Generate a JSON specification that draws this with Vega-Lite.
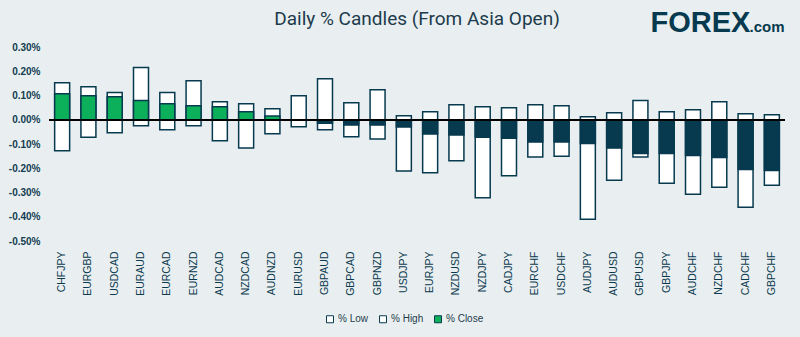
{
  "$schema": "https://vega.github.io/schema/vega-lite/v6.json",
  "width": 736,
  "height": 194,
  "autosize": {"type": "none"},
  "padding": {"left": 49, "top": 47, "right": 15, "bottom": 96},
  "background": "#e9eff0",
  "title": {
    "text": "Daily % Candles (From Asia Open)",
    "fontSize": 19,
    "font": "Roboto",
    "fontWeight": "normal",
    "color": "#1d3b4c",
    "anchor": "middle",
    "offset": -21
  },
  "data": {
    "values": [
      {"pair": "CHFJPY", "high": 0.153, "low": -0.128, "close": 0.107},
      {"pair": "EURGBP", "high": 0.136, "low": -0.072, "close": 0.099},
      {"pair": "USDCAD", "high": 0.112, "low": -0.054, "close": 0.095},
      {"pair": "EURAUD", "high": 0.215, "low": -0.025, "close": 0.079},
      {"pair": "EURCAD", "high": 0.112, "low": -0.041, "close": 0.066},
      {"pair": "EURNZD", "high": 0.161, "low": -0.025, "close": 0.058},
      {"pair": "AUDCAD", "high": 0.074, "low": -0.087, "close": 0.054},
      {"pair": "NZDCAD", "high": 0.066, "low": -0.116, "close": 0.033},
      {"pair": "AUDNZD", "high": 0.045, "low": -0.058, "close": 0.015},
      {"pair": "EURUSD", "high": 0.099, "low": -0.029, "close": 0.0},
      {"pair": "GBPAUD", "high": 0.169, "low": -0.041, "close": -0.014},
      {"pair": "GBPCAD", "high": 0.070, "low": -0.070, "close": -0.022},
      {"pair": "GBPNZD", "high": 0.124, "low": -0.079, "close": -0.022},
      {"pair": "USDJPY", "high": 0.017, "low": -0.211, "close": -0.030},
      {"pair": "EURJPY", "high": 0.033, "low": -0.219, "close": -0.059},
      {"pair": "NZDUSD", "high": 0.062, "low": -0.169, "close": -0.063},
      {"pair": "NZDJPY", "high": 0.054, "low": -0.322, "close": -0.072},
      {"pair": "CADJPY", "high": 0.050, "low": -0.231, "close": -0.076},
      {"pair": "EURCHF", "high": 0.062, "low": -0.154, "close": -0.092},
      {"pair": "USDCHF", "high": 0.058, "low": -0.150, "close": -0.092},
      {"pair": "AUDJPY", "high": 0.012, "low": -0.410, "close": -0.098},
      {"pair": "AUDUSD", "high": 0.029, "low": -0.249, "close": -0.117},
      {"pair": "GBPUSD", "high": 0.079, "low": -0.154, "close": -0.139},
      {"pair": "GBPJPY", "high": 0.033, "low": -0.262, "close": -0.139},
      {"pair": "AUDCHF", "high": 0.041, "low": -0.307, "close": -0.147},
      {"pair": "NZDCHF", "high": 0.074, "low": -0.278, "close": -0.156},
      {"pair": "CADCHF", "high": 0.025, "low": -0.361, "close": -0.205},
      {"pair": "GBPCHF", "high": 0.021, "low": -0.270, "close": -0.209}
    ]
  },
  "layer": [
    {
      "mark": {"type": "bar", "stroke": "#073a4f", "strokeWidth": 1.5},
      "encoding": {
        "x": {
          "field": "pair",
          "type": "nominal",
          "sort": null,
          "scale": {"paddingInner": 0.43, "paddingOuter": 0.215},
          "axis": {
            "labelAngle": -90,
            "labelFontSize": 10.5,
            "labelFont": "Liberation Sans",
            "labelColor": "#0b3a4f",
            "labelOverlap": false,
            "ticks": false,
            "domain": false,
            "labelPadding": 10,
            "title": "FOREX",
            "titleX": 601,
            "titleY": -210,
            "titleAlign": "left",
            "titleBaseline": "alphabetic",
            "titleFont": "Liberation Sans",
            "titleFontSize": 29,
            "titleFontWeight": "bold",
            "titleColor": "#073a4f"
          }
        },
        "y": {
          "field": "low",
          "type": "quantitative",
          "scale": {"domain": [-0.5, 0.3], "nice": false, "zero": false},
          "axis": {
            "values": [-0.5, -0.4, -0.3, -0.2, -0.1, 0, 0.1, 0.2, 0.3],
            "tickCount": 20,
            "labelExpr": "replace(format(datum.value, '.2f'), '\u2212', '-') + '%'",
            "labelOverlap": false,
            "grid": false,
            "ticks": false,
            "domain": false,
            "labelPadding": 9,
            "labelFont": "Liberation Sans",
            "labelFontSize": 10,
            "labelFontWeight": "bold",
            "labelColor": "#123d52",
            "title": ".com",
            "titleX": 700,
            "titleY": -16,
            "titleAngle": 0,
            "titleAlign": "left",
            "titleBaseline": "alphabetic",
            "titleFont": "Liberation Sans",
            "titleFontSize": 15,
            "titleFontWeight": "bold",
            "titleColor": "#073a4f"
          }
        },
        "y2": {"field": "high"},
        "color": {
          "datum": "% Low",
          "type": "nominal",
          "scale": {"domain": ["% Low", "% High", "% Close"], "range": ["#ffffff", "#ffffff", "#0db05a"]},
          "legend": {
            "orient": "none",
            "legendX": 276,
            "legendY": 267,
            "direction": "horizontal",
            "title": null,
            "symbolType": "square",
            "symbolSize": 49,
            "symbolStrokeColor": "#073a4f",
            "symbolStrokeWidth": 1,
            "labelFont": "Liberation Sans",
            "labelFontSize": 10,
            "labelColor": "#1d3b4c",
            "columnPadding": 8,
            "labelOffset": 3
          }
        }
      }
    },
    {
      "mark": {"type": "bar", "stroke": "#073a4f", "strokeWidth": 1.5},
      "encoding": {
        "x": {"field": "pair", "type": "nominal", "sort": null},
        "y": {"field": "close", "type": "quantitative"},
        "y2": {"datum": 0},
        "color": {
          "condition": {"test": "datum.close >= 0", "value": "#0db05a"},
          "value": "#073a4f"
        }
      }
    },
    {
      "mark": {"type": "rule", "color": "#000000", "strokeWidth": 1.2},
      "encoding": {"y": {"datum": 0}}
    }
  ],
  "config": {"view": {"stroke": null}, "axis": {"labelOverlap": false}}
}
